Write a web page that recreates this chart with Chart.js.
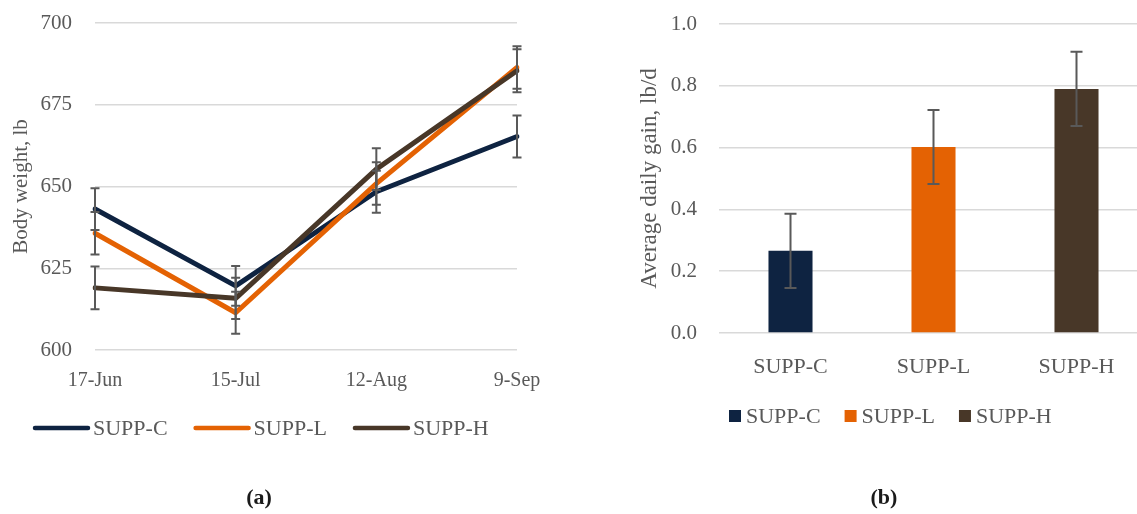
<!DOCTYPE html>
<html>
<head>
<meta charset="utf-8">
<script src="https://cdn.jsdelivr.net/npm/chart.js@4.4.1/dist/chart.umd.min.js"></script>
<style>
  html, body { margin: 0; padding: 0; background: #fff; overflow: hidden; width: 1137px; height: 514px; }
  #panelA { position: absolute; left: 0; top: 0; width: 560px; height: 514px; }
  #panelB { position: absolute; left: 600px; top: 0; width: 560px; height: 514px; }
  .panel-tag { position: absolute; top: 483px; width: 60px; text-align: center;
               font: bold 22px "Liberation Serif", serif; color: #1a1a1a; line-height: 28px; }
</style>
</head>
<body>
<div id="panelA"><canvas id="bodyWeight"></canvas></div>
<div id="panelB"><canvas id="dailyGain"></canvas></div>
<div class="panel-tag" style="left:229px">(a)</div>
<div class="panel-tag" style="left:854px">(b)</div>
<script>
// Weigh dates and body weight (lb) per supplement group, with error bars
const weighDates = ['17-Jun', '15-Jul', '12-Aug', '9-Sep'];
const bwSuppC = [643.1, 619.6, 648.4, 665.3];
const bwSuppL = [635.7, 611.4, 650.9, 686.4];
const bwSuppH = [619.0, 615.8, 655.3, 685.4];
const bwErrC = [6.4, 6.1, 6.4, 6.4];
const bwErrL = [6.5, 6.4, 6.5, 6.5];
const bwErrH = [6.5, 6.3, 6.4, 6.6];
const bwTicks = [600, 625, 650, 675, 700];

// Average daily gain (lb/d) per supplement group, with error bars
const treatments = ['SUPP-C', 'SUPP-L', 'SUPP-H'];
const adgMeans = [0.266, 0.602, 0.790];
const adgErr = [0.12, 0.12, 0.12];
const adgTicks = [0.0, 0.2, 0.4, 0.6, 0.8, 1.0];

const groupColours = ['#0e2341', '#e46203', '#483728'];
const textGrey = '#595959';
const gridGrey = '#d9d9d9';
const serif = '"Liberation Serif", serif';

// Vertical error bars with caps, drawn over the datasets
const errorBars = {
  id: 'errorBars',
  afterDatasetsDraw(chart, args, opts) {
    const { ctx } = chart;
    const y = chart.scales.y;
    ctx.save();
    ctx.strokeStyle = opts.color;
    ctx.lineWidth = opts.width;
    chart.data.datasets.forEach((ds, i) => {
      const meta = chart.getDatasetMeta(i);
      (ds.errors || []).forEach((e, j) => {
        const px = meta.data[j].x;
        const v = ds.data[j];
        const top = y.getPixelForValue(v + e);
        const bot = y.getPixelForValue(v - e);
        ctx.beginPath();
        ctx.moveTo(px, top); ctx.lineTo(px, bot);
        ctx.moveTo(px - opts.cap, top); ctx.lineTo(px + opts.cap, top);
        ctx.moveTo(px - opts.cap, bot); ctx.lineTo(px + opts.cap, bot);
        ctx.stroke();
      });
    });
    ctx.restore();
  }
};

// Horizontal key below the plot: line swatches or square swatches
const keyRow = {
  id: 'keyRow',
  afterDraw(chart, args, o) {
    const { ctx } = chart;
    ctx.save();
    ctx.font = o.font;
    ctx.textBaseline = 'middle';
    let x = o.x;
    o.items.forEach(item => {
      if (o.kind === 'line') {
        ctx.strokeStyle = item.colour;
        ctx.lineWidth = 4.5;
        ctx.lineCap = 'round';
        ctx.beginPath();
        ctx.moveTo(x + 2, o.y);
        ctx.lineTo(x + o.swatch - 2, o.y);
        ctx.stroke();
      } else {
        ctx.fillStyle = item.colour;
        ctx.fillRect(x, o.y - o.swatch / 2, o.swatch, o.swatch);
      }
      x += o.swatch + o.gap;
      ctx.fillStyle = textGrey;
      ctx.fillText(item.label, x, o.y + 1);
      x += ctx.measureText(item.label).width + o.spacing;
    });
    ctx.restore();
  }
};

function lineSeries(label, data, errors, colour, order) {
  return {
    label, data, errors, order,
    borderColor: colour, backgroundColor: colour,
    borderWidth: 5, pointRadius: 0, tension: 0,
    borderJoinStyle: 'round', borderCapStyle: 'round'
  };
}

// Value axis: fixed width, and no extra top/bottom room for the end labels
function fixedValueAxis(width) {
  return s => { s.width = width; s.paddingTop = 0; s.paddingBottom = 0; };
}

new Chart(document.getElementById('bodyWeight'), {
  type: 'line',
  data: {
    labels: weighDates,
    datasets: [
      lineSeries('SUPP-C', bwSuppC, bwErrC, groupColours[0], 2),
      lineSeries('SUPP-L', bwSuppL, bwErrL, groupColours[1], 1),
      lineSeries('SUPP-H', bwSuppH, bwErrH, groupColours[2], 0)
    ]
  },
  plugins: [errorBars, keyRow],
  options: {
    responsive: true, maintainAspectRatio: false, animation: false,
    layout: { padding: { top: 23, right: 43, bottom: 104, left: 0 } },
    plugins: {
      legend: { display: false }, tooltip: { enabled: false },
      errorBars: { color: textGrey, width: 2, cap: 4.5 },
      keyRow: {
        kind: 'line', x: 33, y: 428, swatch: 57, gap: 3, spacing: 26,
        font: '22px ' + serif,
        items: treatments.map((t, i) => ({ label: t, colour: groupColours[i] }))
      }
    },
    scales: {
      x: {
        offset: false,
        grid: { display: false }, border: { display: false },
        ticks: { color: textGrey, font: { family: serif, size: 20 }, padding: 11, maxRotation: 0 },
        afterFit(s) { s.height = 60; }
      },
      y: {
        min: 600, max: 700,
        afterBuildTicks(s) { s.ticks = bwTicks.map(v => ({ value: v })); },
        grid: { color: gridGrey, lineWidth: 1.5, drawTicks: false }, border: { display: false },
        ticks: { color: textGrey, font: { family: serif, size: 21 }, padding: 23 },
        title: { display: true, text: 'Body weight, lb', color: textGrey,
                 font: { family: serif, size: 21 }, padding: { top: 9, bottom: 0 } },
        afterFit: fixedValueAxis(95)
      }
    }
  }
});

new Chart(document.getElementById('dailyGain'), {
  type: 'bar',
  data: {
    labels: treatments,
    datasets: [{
      label: 'Average daily gain',
      data: adgMeans, errors: adgErr,
      backgroundColor: groupColours,
      barPercentage: 0.308, categoryPercentage: 1
    }]
  },
  plugins: [errorBars, keyRow],
  options: {
    responsive: true, maintainAspectRatio: false, animation: false,
    layout: { padding: { top: 24, right: 12, bottom: 121, left: 0 } },
    plugins: {
      legend: { display: false }, tooltip: { enabled: false },
      errorBars: { color: textGrey, width: 2, cap: 6 },
      keyRow: {
        kind: 'square', x: 129, y: 416, swatch: 12, gap: 5, spacing: 24,
        font: '22px ' + serif,
        items: treatments.map((t, i) => ({ label: t, colour: groupColours[i] }))
      }
    },
    scales: {
      x: {
        grid: { display: false }, border: { display: false },
        ticks: { color: textGrey, font: { family: serif, size: 22 }, padding: 13 },
        afterFit(s) { s.height = 60; }
      },
      y: {
        min: 0, max: 1,
        afterBuildTicks(s) { s.ticks = adgTicks.map(v => ({ value: v })); },
        grid: { color: gridGrey, lineWidth: 1.5, drawTicks: false }, border: { display: false },
        ticks: { color: textGrey, font: { family: serif, size: 21 }, padding: 22,
                 callback: v => Number(v).toFixed(1) },
        title: { display: true, text: 'Average daily gain, lb/d', color: textGrey,
                 font: { family: serif, size: 23 }, padding: { top: 36, bottom: 0 } },
        afterFit: fixedValueAxis(119)
      }
    }
  }
});
</script>
</body>
</html>
